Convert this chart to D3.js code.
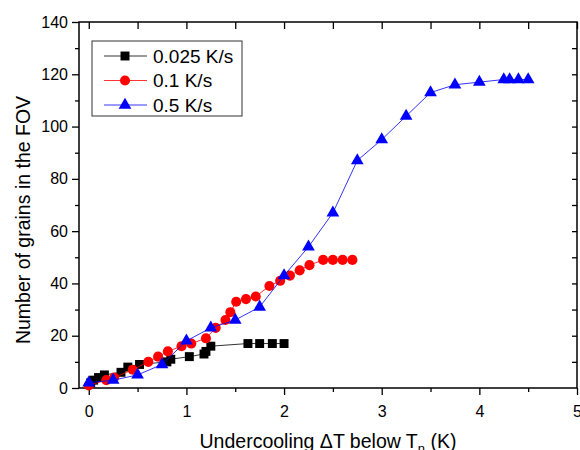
<!DOCTYPE html>
<html>
	<head>
		<title>Grains vs undercooling</title>
		<script src="https://d3js.org/d3.v7.min.js"></script>
		<style>
			body { margin: 0; background: #ffffff; }
			svg { width: 580px; height: 450px; display: block; }
			text { font-family: Arial, "Liberation Sans", sans-serif; fill: #000; }
		</style>
	</head>
	<body>
		<svg id="chart"></svg>
		<script>
			// data: undercooling (K) and grain count
			var slowX = [0.02, 0.05, 0.1, 0.16, 0.33, 0.4, 0.52, 0.8, 0.84, 1.03, 1.18, 1.2, 1.25, 1.63, 1.75, 1.88, 2.0];
			var slowY = [2, 3, 4, 5, 6, 8, 9, 10, 11, 12, 13, 14, 16, 17, 17, 17, 17];

			var midX = [0.0, 0.18, 0.26, 0.45, 0.61, 0.71, 0.81, 0.95, 1.05, 1.2, 1.3, 1.4, 1.45, 1.51, 1.61, 1.71, 1.85, 1.96, 2.06, 2.16, 2.26, 2.4, 2.5, 2.6, 2.7];
			var midY = [1, 3, 4, 7, 10, 12, 14, 16, 17, 19, 23, 26, 29, 33, 34, 35, 39, 41, 43, 45, 47, 49, 49, 49, 49];

			var fastX = [0, 0.25, 0.5, 0.75, 1.0, 1.25, 1.5, 1.75, 2.0, 2.25, 2.5, 2.75, 3.0, 3.25, 3.5, 3.75, 4.0, 4.25, 4.31, 4.4, 4.5];
			var fastY = [2, 3, 5, 9, 18, 23, 26, 31, 43, 54, 67, 87, 95, 104, 113, 116, 117, 118, 118, 118, 118];

			var seriesNames = ["0.025 K/s", "0.1 K/s", "0.5 K/s"];
			var xMajor = [0, 1, 2, 3, 4, 5];
			var yMajor = [0, 20, 40, 60, 80, 100, 120, 140];

			function zip(xs, ys) {
				return xs.map(function(v, i) { return {x: v, y: ys[i]}; });
			}

			var series = [
				{name: seriesNames[0], color: "#000000", shape: d3.symbolSquare, size: 80, points: zip(slowX, slowY)},
				{name: seriesNames[1], color: "#ff0000", shape: d3.symbolCircle, size: 80, points: zip(midX, midY)},
				{name: seriesNames[2], color: "#0000ff", shape: d3.symbolTriangle, size: 70, points: zip(fastX, fastY)}
			];

			// plot frame (window.top is reserved, so no bare "top")
			var pLeft = 79, pTop = 22, pRight = 577, pBottom = 388;

			var x = d3.scaleLinear().domain([-0.1, 5]).range([pLeft, pRight]);
			var y = d3.scaleLinear().domain([0, 140]).range([pBottom, pTop]);

			var svg = d3.select("#chart");

			/*** axes ***/
			var xMinor = d3.range(0.5, 5, 1);
			var yMinor = d3.range(10, 140, 20);

			svg.append("g")
			.attr("transform", "translate(0," + pBottom + ")")
			.call(d3.axisBottom(x).tickValues(xMajor).tickSize(7).tickPadding(11).tickFormat(d3.format("d")));
			svg.append("g")
			.attr("transform", "translate(0," + pBottom + ")")
			.call(d3.axisBottom(x).tickValues(xMinor).tickSize(4).tickFormat(""));

			svg.append("g")
			.attr("transform", "translate(" + pLeft + ",0)")
			.call(d3.axisLeft(y).tickValues(yMajor).tickSize(7).tickPadding(4).tickFormat(d3.format("d")));
			svg.append("g")
			.attr("transform", "translate(" + pLeft + ",0)")
			.call(d3.axisLeft(y).tickValues(yMinor).tickSize(4).tickFormat(""));

			// top and right: inward ticks, no labels
			svg.append("g")
			.attr("transform", "translate(0," + pTop + ")")
			.call(d3.axisTop(x).tickValues(d3.range(0, 5.01, 0.5)).tickSize(-7).tickFormat(""));
			svg.append("g")
			.attr("transform", "translate(" + pRight + ",0)")
			.call(d3.axisRight(y).tickValues(d3.range(10, 140, 10)).tickSize(-5).tickFormat(""));

			svg.selectAll(".domain").remove();
			svg.selectAll(".tick line").attr("stroke", "#000").attr("stroke-width", 1.3);
			svg.selectAll(".tick text").attr("font-size", "16px").attr("font-family", "Arial, 'Liberation Sans', sans-serif");

			svg.append("rect")
			.attr("x", pLeft)
			.attr("y", pTop)
			.attr("width", pRight - pLeft)
			.attr("height", pBottom - pTop)
			.attr("fill", "none")
			.attr("stroke", "#000")
			.attr("stroke-width", 1.5);

			/*** series ***/
			var line = d3.line()
			.x(function(d) { return x(d.x); })
			.y(function(d) { return y(d.y); });

			series.forEach(function(s) {
				svg.append("path")
				.datum(s.points)
				.attr("d", line)
				.attr("fill", "none")
				.attr("stroke", s.color)
				.attr("stroke-width", 0.8);

				svg.append("g").selectAll("path")
				.data(s.points)
				.enter()
				.append("path")
				.attr("d", d3.symbol().type(s.shape).size(s.size))
				.attr("transform", function(d) { return "translate(" + x(d.x) + "," + y(d.y) + ")"; })
				.attr("fill", s.color);
			});

			/*** legend ***/
			var legend = svg.append("g").attr("transform", "translate(92,41)");
			legend.append("rect")
			.attr("width", 150)
			.attr("height", 75)
			.attr("fill", "#fff")
			.attr("stroke", "#333")
			.attr("stroke-width", 1);

			var rows = legend.selectAll(".row")
			.data(series)
			.enter()
			.append("g")
			.attr("class", "row")
			.attr("transform", function(d, i) { return "translate(0," + (15 + i * 24.5) + ")"; });
			rows.append("line")
			.attr("x1", 12).attr("x2", 55)
			.attr("stroke", function(d) { return d.color; })
			.attr("stroke-width", 0.8);
			rows.append("path")
			.attr("d", function(d) { return d3.symbol().type(d.shape).size(d.size)(); })
			.attr("transform", "translate(33,0)")
			.attr("fill", function(d) { return d.color; });
			rows.append("text")
			.attr("x", 61)
			.attr("dy", "0.36em")
			.attr("font-size", "19px")
			.text(function(d) { return d.name; });

			/*** titles ***/
			var xt = svg.append("text")
			.attr("x", (pLeft + pRight) / 2)
			.attr("y", 448)
			.attr("text-anchor", "middle")
			.attr("font-size", "19.5px");
			xt.append("tspan").text("Undercooling \u0394T below T");
			xt.append("tspan").attr("font-size", "13px").attr("dy", 5).text("n");
			xt.append("tspan").attr("dy", -5).text(" (K)");

			svg.append("text")
			.attr("transform", "translate(30,220) rotate(-90)")
			.attr("text-anchor", "middle")
			.attr("font-size", "19.5px")
			.text("Number of grains in the FOV");
		</script>
	</body>
</html>
